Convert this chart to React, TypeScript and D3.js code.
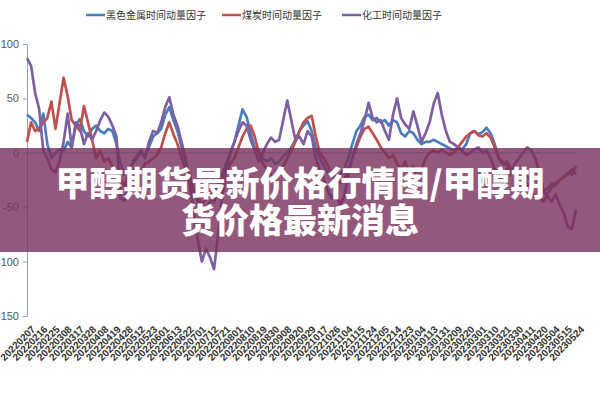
import { useEffect, useRef } from "react";
import * as d3 from "d3";

// x 轴刻度（每 3 个数据点一个标签）
const dateLabels = [
  "20220207", "20220216", "20220225", "20220308", "20220317", "20220328", "20220408", "20220419",
  "20220428", "20220512", "20220523", "20220601", "20220613", "20220622", "20220701", "20220712",
  "20220721", "20220801", "20220810", "20220819", "20220830", "20220908", "20220920", "20220929",
  "20221017", "20221026", "20221104", "20221115", "20221124", "20221205", "20221214", "20221223",
  "20230104", "20230113", "20230131", "20230209", "20230220", "20230301", "20230310", "20230321",
  "20230330", "20230411", "20230420", "20230504", "20230515", "20230524",
];

const blackMetal = [
  35, 32, 28, 20, 36, 8, -5, 0, 3, 2,
  10, 5, 25, 31, 20, 15, 22, 25, 20, 18,
  22, 20, 8, -10, -20, -15, -10, -5, 0, -3,
  5, 15, 18, 22, 35, 42, 30, 20, 5, -8,
  -20, -35, -45, -55, -50, -45, -40, -30, -20, -10,
  0, 10, 25, 40, 33, 18, 5, 0, -5, -8,
  -5, -10, -8, -3, 0, 5, 12, 20, 25, 29,
  20, 5, -5, -12, -18, -22, -25, -20, -15, -5,
  8, 20, 25, 33, 35, 30, 32, 28, 30, 25,
  30, 28, 18, 15, 20, 18, 12, 8, 10, 10,
  12, 10, 8, 6, 4, 2, 5, 3, 8, 18,
  20, 17, 19, 23, 18, 8, -5, -10, -8, -15,
  -18, -20, -15, -22, -25, -28, -30, -35, -33, -28,
  -30, -25, -22, -18, -20, -12,
];

const coal = [
  10, 28, 20, 22, 28, 32, 47, 22, 45, 69,
  52, 30, 25, 20, 43, 28, 12, -5, 2, -8,
  -5, -12, -20, -25, -30, -20, -15, -25, -18, -10,
  -8, -5, -2, 5, 18, 28, 17, 8, -5, -15,
  -25, -35, -40, -48, -42, -38, -45, -35, -25, -18,
  -10, -5, 5, 15, 22, 25, 15, 0, -10, -15,
  -20, -25, -18, -12, -5, 2, 10, 20, 28, 32,
  34, 15, 0, -5, -12, -18, -22, -28, -25, -15,
  -5, 5, 15, 22, 24, 18, 12, 5, 0, -5,
  -2, -10, -15, -8, -20, -12, -25, -15, -5, 0,
  2, 0, 3, 0, -2, 0, 5, 10, 15, 18,
  20, 16, 15, 18, 14, 5, -5, -8, -12, -15,
  -20, -25, -22, -28, -35, -40, -42, -45, -38, -32,
  -28, -25, -22, -20, -15, -20,
];

const chemical = [
  87, 80, 55, 40, 2, -5, -15, -18, -8, 10,
  36, 5, 28, 24, 8, 18, 12, 20, 30, 37,
  33, 25, 15, -42, -44, -25, -8, -3, 2, -5,
  10, 20, 18, 28, 42, 51, 35, 25, 10, -5,
  -30, -55, -80, -100, -88, -96, -107, -75, -40, -15,
  0, 10, 20, 28, 25, 12, 2, -8, 0, 8,
  14, 10, 12, 30, 48, 30, 12, 15, 8, 20,
  15, -5, -15, -25, -35, -42, -38, -48, -40, -20,
  -5, 8, 18, 30, 46, 32, 28, 30, 20, 12,
  35, 50, 32, 26, 22, 38, 25, 10, 18, 28,
  45, 55, 35, 20, 10, 8, 5, 2, -2, 0,
  3, 5, 0, 2, -5, -15, -20, -25, -15, -20,
  -10, -5, 0, 5, 2, -5, -18, -35, -40, -45,
  -38, -48, -55, -68, -70, -52,
];

const seriesNames = ["黑色金属时间动量因子", "煤炭时间动量因子", "化工时间动量因子"];
const seriesColors = ["#4a7ebb", "#c0504d", "#7e5fa2"];
const yTicks = [-150, -100, -50, 0, 50, 100];
const titleLines = ["甲醇期货最新价格行情图/甲醇期", "货价格最新消息"];

const App = () => {
  const ref = useRef<SVGSVGElement | null>(null);

  const width = 600;
  const height = 400;
  const axisColor = "#8ea2bd";

  useEffect(() => {
    if (!ref.current) return;

    const svg = d3.select(ref.current);
    svg.selectAll("*").remove();

    const n = blackMetal.length;
    const x = d3.scaleLinear().domain([0, n - 1]).range([27, 576]);
    const y = d3.scaleLinear().domain([-150, 100]).range([316, 44]);

    // 纵轴
    const yAxis = svg
      .append("g")
      .attr("transform", "translate(27,0)")
      .call(
        d3.axisLeft(y)
          .tickValues(yTicks)
          .tickSize(4)
          .tickSizeOuter(0)
          .tickFormat(d => String(d))
      );
    yAxis.select(".domain").attr("stroke", axisColor);
    yAxis.selectAll(".tick line").attr("stroke", axisColor);
    yAxis
      .selectAll("text")
      .attr("x", -8)
      .attr("font-family", "'Liberation Sans', Arial, sans-serif")
      .attr("font-size", 11)
      .attr("fill", "#555");

    // 零轴
    svg
      .append("line")
      .attr("x1", x(0))
      .attr("x2", x(n - 1))
      .attr("y1", y(0))
      .attr("y2", y(0))
      .attr("stroke", axisColor);

    // 日期标签
    const step = (n - 1) / (dateLabels.length - 1);
    svg
      .append("g")
      .selectAll("text")
      .data(dateLabels)
      .join("text")
      .attr("transform", (_, i) => `translate(${x(i * step) + 4},${325}) rotate(-45)`)
      .attr("text-anchor", "end")
      .attr("dy", "0.7em")
      .attr("font-family", "'Liberation Sans', Arial, sans-serif")
      .attr("font-size", 10)
      .attr("font-weight", "bold")
      .attr("fill", "#333")
      .text(d => d);

    // 折线
    const line = d3
      .line<number>()
      .x((_, i) => x(i))
      .y(d => y(d));

    [blackMetal, coal, chemical].forEach((values, k) => {
      svg
        .append("path")
        .datum(values)
        .attr("fill", "none")
        .attr("stroke", seriesColors[k])
        .attr("stroke-width", 2.7)
        .attr("stroke-linejoin", "round")
        .attr("d", line);
    });

    // 图例
    const legendX = [86, 222, 342];
    const legend = svg
      .append("g")
      .selectAll("g")
      .data(seriesNames)
      .join("g")
      .attr("transform", (_, i) => `translate(${legendX[i]},15)`);
    legend
      .append("line")
      .attr("x1", 0)
      .attr("x2", 19)
      .attr("stroke", (_, i) => seriesColors[i])
      .attr("stroke-width", 2.5);
    legend
      .append("text")
      .attr("x", 20)
      .attr("dy", "0.35em")
      .attr("font-family", "'Noto Sans CJK SC', sans-serif")
      .attr("font-size", 10)
      .attr("fill", "#333")
      .text(d => d);

    // 标题遮罩
    svg
      .append("rect")
      .attr("x", 0)
      .attr("y", 148)
      .attr("width", width)
      .attr("height", 104)
      .attr("fill", "#78305c")
      .attr("opacity", 0.8);

    svg
      .append("g")
      .selectAll("text")
      .data(titleLines)
      .join("text")
      .attr("x", 300)
      .attr("y", (_, i) => 196 + i * 37)
      .attr("text-anchor", "middle")
      .attr("font-family", "'Noto Sans CJK SC', sans-serif")
      .attr("font-size", 34)
      .attr("font-weight", 900)
      .attr("fill", "#fff")
      .text(d => d);
  }, []);

  return (
    <svg
      ref={ref}
      width={width}
      height={height}
      viewBox={`0 0 ${width} ${height}`}
      style={{ position: "absolute", left: 0, top: 0, display: "block", background: "#fff" }}
    />
  );
};

export default App;
